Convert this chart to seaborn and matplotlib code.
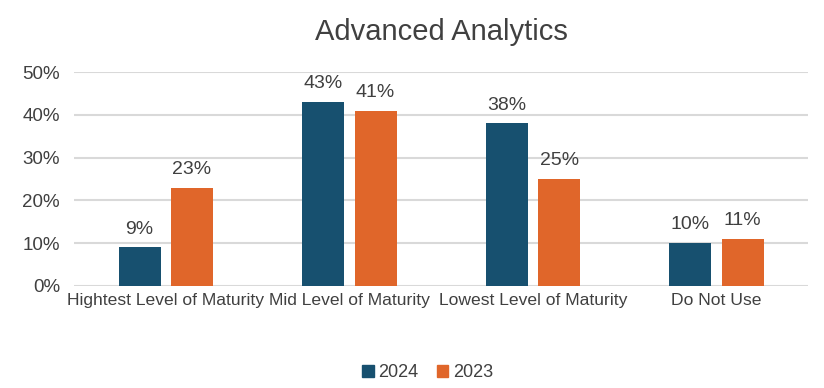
import matplotlib
matplotlib.use("Agg")
import matplotlib.pyplot as plt
import seaborn as sns
import pandas as pd
from matplotlib.ticker import PercentFormatter

categories = ["Hightest Level of Maturity", "Mid Level of Maturity", "Lowest Level of Maturity", "Do Not Use"]
years = ["2024", "2023"]
values_2024 = [9, 43, 38, 10]
values_2023 = [23, 41, 25, 11]

df = pd.DataFrame({
    "category": categories * 2,
    "year": ["2024"] * 4 + ["2023"] * 4,
    "value": values_2024 + values_2023,
})

sns.set_theme(style="white")
plt.rcParams['font.family'] = ['Liberation Sans', 'DejaVu Sans']
text_color = "#404040"

fig = plt.figure(figsize=(8.24, 3.88), dpi=100)
ax = fig.add_axes([0.0898, 0.263, 0.891, 0.551])
palette = {"2024": "#17506F", "2023": "#E0662A"}
sns.barplot(data=df, x="category", y="value", hue="year", hue_order=years,
            palette=palette, width=0.572, gap=0.2, ax=ax, saturation=1, legend=True,
            linewidth=0)

for cont in ax.containers:
    ax.bar_label(cont, labels=[f"{v:.0f}%" for v in cont.datavalues], padding=7,
                 fontsize=14, color=text_color)

ax.set_ylim(0, 50)
ax.set_yticks([0, 10, 20, 30, 40, 50])
ax.yaxis.set_major_formatter(PercentFormatter(decimals=0))
ax.grid(axis="y", color="#D9D9D9", linewidth=1.5)
ax.set_axisbelow(True)
for s in ax.spines.values():
    s.set_visible(False)
ax.set_xlabel("")
ax.set_ylabel("")
ax.tick_params(axis="both", length=0, labelcolor=text_color)
ax.tick_params(axis="y", pad=10, labelsize=13.5)
ax.tick_params(axis="x", pad=5, labelsize=12.6)
ax.set_xlim(-0.5, 3.5)

ax.set_title("Advanced Analytics", fontsize=21, color=text_color, pad=23)

ax.legend_.remove()
handles = [plt.Rectangle((0, 0), 1, 1, color=palette[y]) for y in years]
fig.legend(handles, years, loc="center", bbox_to_anchor=(0.519, 0.04), ncol=2,
           frameon=False, fontsize=13, labelcolor=text_color, handlelength=0.65,
           handleheight=0.65, handletextpad=0.25, columnspacing=1.0)

fig.savefig("out.png", dpi=100, facecolor="white")
